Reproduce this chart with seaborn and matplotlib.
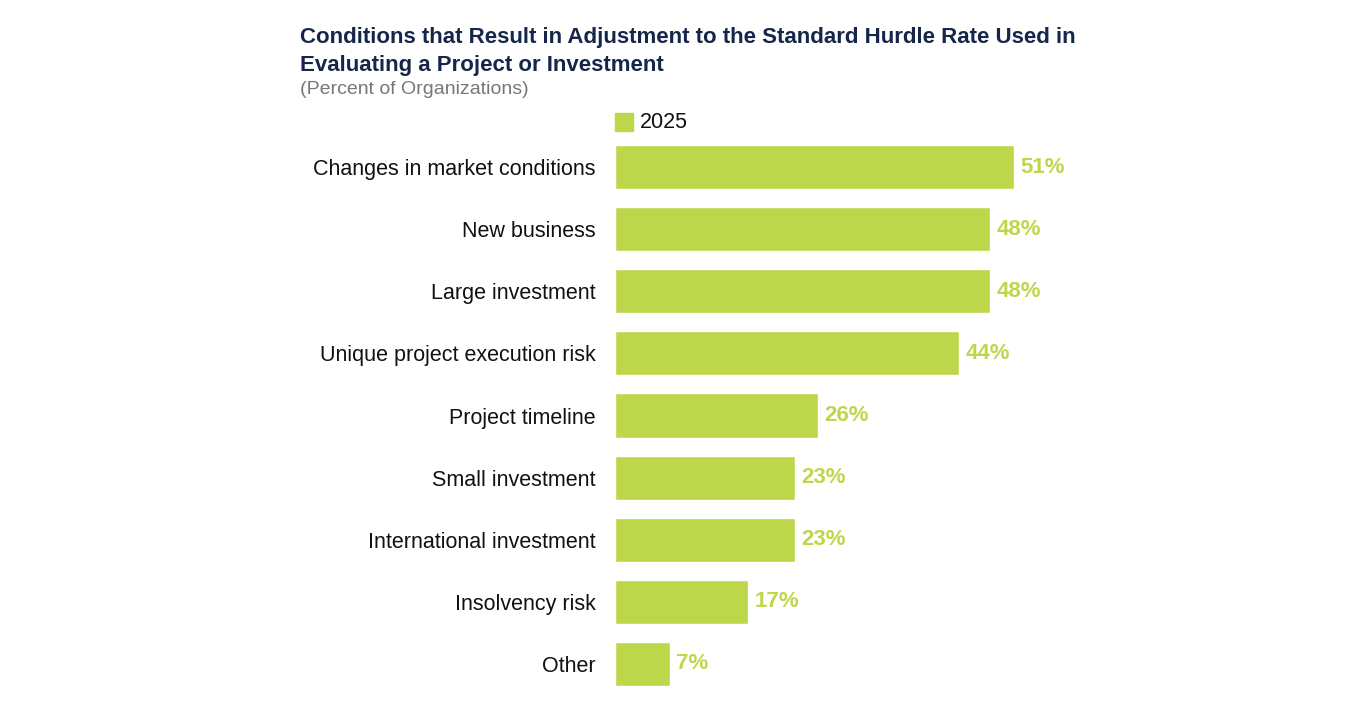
import matplotlib
matplotlib.use("Agg")
import matplotlib.pyplot as plt
import seaborn as sns
import pandas as pd

categories = ["Changes in market conditions", "New business", "Large investment",
              "Unique project execution risk", "Project timeline", "Small investment",
              "International investment", "Insolvency risk", "Other"]
values = [51, 48, 48, 44, 26, 23, 23, 17, 7]
series_name = "2025"

green = "#BDD74B"
navy = "#14264A"

sns.set_theme(style="white")
plt.rcParams['font.family'] = ['Liberation Sans', 'DejaVu Sans']

df = pd.DataFrame({"cat": categories, "val": values})

fig = plt.figure(figsize=(13.7, 7.17), dpi=100)
ax = fig.add_axes([0.449, 0.031, 0.5, 0.779])
sns.barplot(data=df, x="val", y="cat", color=green, width=0.71, ax=ax, saturation=1)
ax.set_xlim(0, 685 / 7.82)
ax.set_ylim(8.5, -0.5)
ax.set_xlabel("")
ax.set_ylabel("")
ax.set_xticks([])
ax.tick_params(axis="y", length=0, pad=14, labelsize=15.5, labelcolor="#111111")
for s in ax.spines.values():
    s.set_visible(False)

for i, v in enumerate(values):
    ax.text(v + 0.8, i, f"{v}%", va="center", ha="left", color=green,
            fontsize=16, fontweight="bold")

fig.text(300 / 1370, 1 - 38 / 717, "Conditions that Result in Adjustment to the Standard Hurdle Rate Used in",
         color=navy, fontsize=16, fontweight="bold", va="center")
fig.text(300 / 1370, 1 - 65 / 717, "Evaluating a Project or Investment",
         color=navy, fontsize=16, fontweight="bold", va="center")
fig.text(300 / 1370, 1 - 90 / 717, "(Percent of Organizations)",
         color="#777777", fontsize=14, va="center")

# legend
fig.patches.append(plt.Rectangle((615 / 1370, 1 - 131 / 717), 18 / 1370, 18 / 717,
                                 transform=fig.transFigure, color=green))
fig.text(640 / 1370, 1 - 123 / 717, series_name, fontsize=15.5, va="center", color="#111111")

fig.savefig("out.png", dpi=100)
